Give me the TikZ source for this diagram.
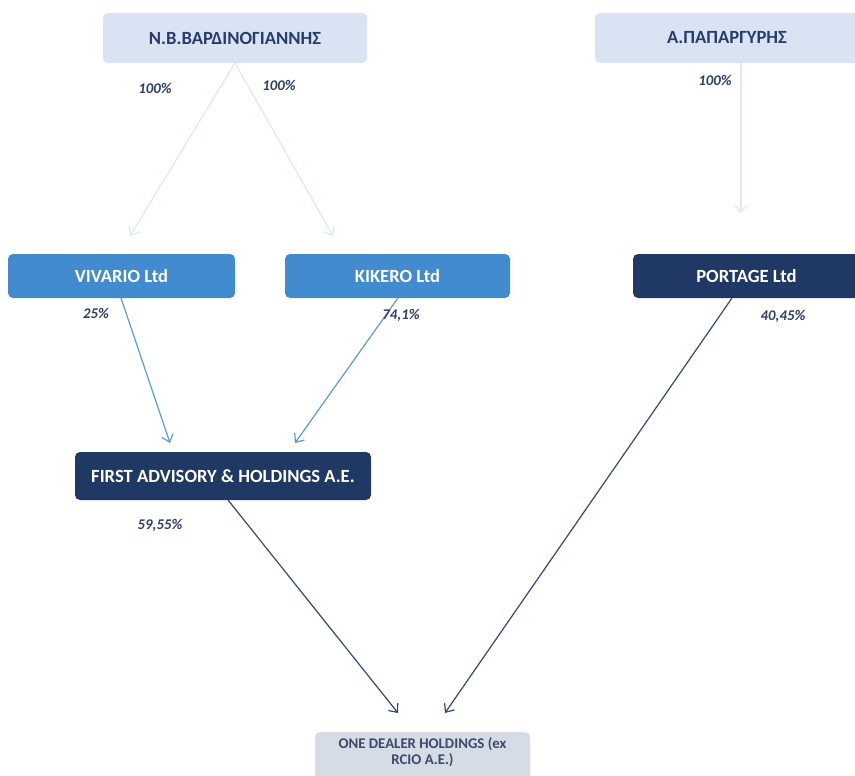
\documentclass[tikz,border=0pt]{standalone}
\usepackage{fontspec}
\setmainfont{Carlito}
\usetikzlibrary{arrows.meta}
\definecolor{lightbox}{HTML}{DAE3F3}
\definecolor{greybox}{HTML}{D6DCE5}
\definecolor{midblue}{HTML}{428BCF}
\definecolor{navy}{HTML}{203864}
\definecolor{darktext}{HTML}{263D6B}
\definecolor{greytext}{HTML}{3B4A6B}
\definecolor{palearrow}{HTML}{DCE8F6}
\definecolor{midarrow}{HTML}{5B9BD5}
\definecolor{navyarrow}{HTML}{2F4A7A}
\definecolor{pcttext}{HTML}{2E3F66}
\tikzset{
  box/.style={rounded corners=5pt, inner sep=0pt, align=center, font=\fontsize{18.6}{21}\selectfont\bfseries},
  lightnode/.style={box, fill=lightbox, text=darktext},
  midnode/.style={box, fill=midblue, text=white},
  navynode/.style={box, fill=navy, text=white},
  greynode/.style={box, fill=greybox, text=greytext, font=\fontsize{14.8}{16.5}\selectfont\bfseries},
  pct/.style={font=\fontsize{14.8}{16}\selectfont\bfseries\itshape, text=pcttext, inner sep=0pt},
  conn/.style={-{Straight Barb[length=7pt,width=12pt]}, line width=1.2pt},
}
\begin{document}
\begin{tikzpicture}[x=1pt,y=-1pt]
\useasboundingbox (0,0) rectangle (855,776);
\clip (0,0) rectangle (855,776);
% boxes
\node[lightnode, minimum width=264pt, minimum height=50pt] (nb) at (235,38) {Ν.Β.ΒΑΡΔΙΝΟΓΙΑΝΝΗΣ};
\node[lightnode, minimum width=264pt, minimum height=50pt] (ap) at (727,38) {Α.ΠΑΠΑΡΓΥΡΗΣ};
\node[midnode, minimum width=227pt, minimum height=44pt] (viv) at (121.5,276) {VIVARIO Ltd};
\node[midnode, minimum width=225pt, minimum height=44pt] (kik) at (397.5,276) {KIKERO Ltd};
\node[navynode, minimum width=227pt, minimum height=44pt] (por) at (746.5,276) {PORTAGE Ltd};
\node[navynode, minimum width=296pt, minimum height=48pt] (fa) at (223,476) {FIRST ADVISORY \& HOLDINGS A.E.};
\node[greynode, minimum width=215pt, minimum height=60pt, anchor=north, text depth=22pt] (od) at (422.5,732) {ONE DEALER HOLDINGS (ex\\RCIO A.E.)};
% connector endpoints
\coordinate (nbv) at (130,236);
\coordinate (nbk) at (333,236);
\coordinate (apt) at (741,213);
\coordinate (vivs) at (121,298);
\coordinate (vivt) at (170,443);
\coordinate (kiks) at (398,298);
\coordinate (kikt) at (295,443);
\coordinate (fas) at (228,500);
\coordinate (fat) at (398,713);
\coordinate (pors) at (732,298);
\coordinate (port) at (445,713);
\coordinate (nbs) at (235,63);
\coordinate (aps) at (741,63);
% connectors
\draw[conn, palearrow] (nbs) -- (nbv);
\draw[conn, palearrow] (nbs) -- (nbk);
\draw[conn, palearrow] (aps) -- (apt);
\draw[conn, midarrow] (vivs) -- (vivt);
\draw[conn, midarrow] (kiks) -- (kikt);
\draw[conn, navyarrow] (fas) -- (fat);
\draw[conn, navyarrow] (pors) -- (port);
% labels
\node[pct] (l1) at (155,88) {100\%};
\node[pct] (l2) at (279,85) {100\%};
\node[pct] (l3) at (715,80) {100\%};
\node[pct] (l4) at (96,313) {25\%};
\node[pct] (l5) at (401,315) {74,1\%};
\node[pct] (l6) at (783,316) {40,45\%};
\node[pct] (l7) at (160,525) {59,55\%};
\end{tikzpicture}
\end{document}
